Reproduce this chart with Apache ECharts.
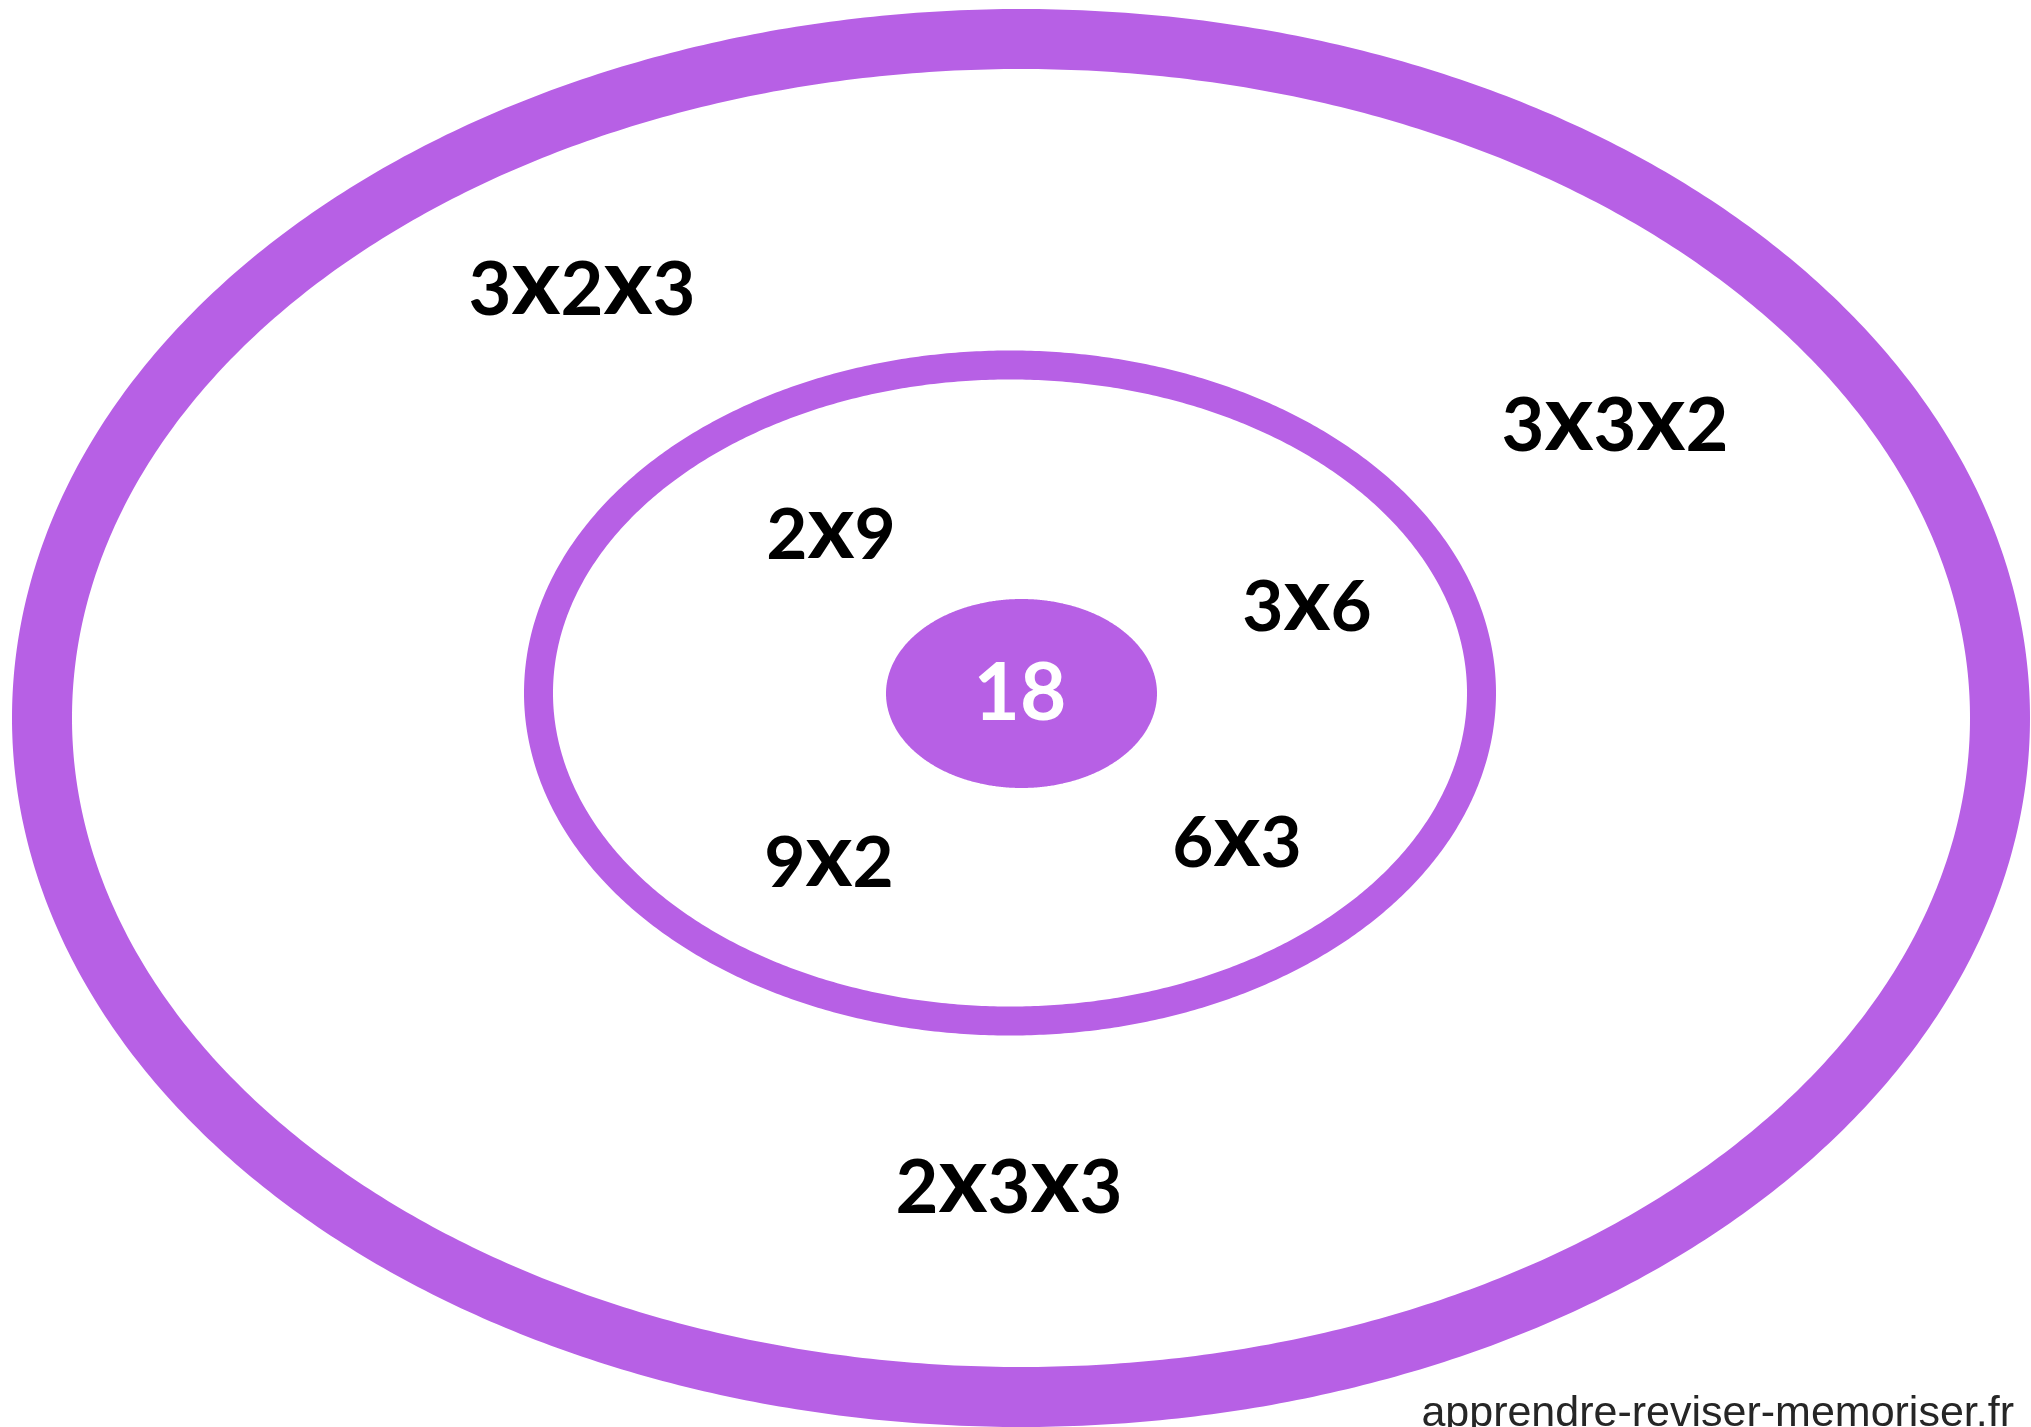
<!DOCTYPE html>
<html>
<head>
<meta charset="utf-8">
<title>18</title>
<script src="https://cdn.jsdelivr.net/npm/echarts@6/dist/echarts.min.js"></script>
<style>
  html, body { margin: 0; padding: 0; background: #ffffff; }
  #chart { width: 2031px; height: 1427px; }
</style>
</head>
<body>
<div id="chart"></div>
<script>
// the number in the middle and the ways to write it
const centreNumber = "18";
const twoFactors = ["2x9", "3x6", "6x3", "9x2"];
const threeFactors = ["3x2x3", "3x3x2", "2x3x3"];
const sourceText = "apprendre-reviser-memoriser.fr";

// layout, in the page units of the hidden axes (x right, y down)
const ringLayout = [
    [1021, 718, 979, 679],       // outer ring
    [1010, 693, 471.5, 328],     // inner ring
    [1021.5, 693.5, 135.5, 94.5] // filled centre
];
const ringLineWidth = [60, 29, 0];
const centrePos = [1020, 694];
const twoPos = [[831, 536], [1307, 608], [1237, 844], [829, 864]];
const threePos = [[582, 291], [1615, 427], [1009, 1189]];

const PURPLE = "#b760e5";

const chart = echarts.init(document.getElementById("chart"), null, { renderer: "canvas" });

const toRich = (s) => s.split("x").map((d) => "{d|" + d + "}").join("{x|x}");

// the "x" is drawn larger; its bottom padding lifts it back onto the digits' baseline
const richFor = (size, color) => ({
    d: { fontFamily: "Lato", fontWeight: "bold", fontSize: size, color: color, lineHeight: size * 1.3 },
    x: {
        fontFamily: "Lato", fontWeight: "bold", fontSize: size * 1.27, color: color,
        lineHeight: size * 1.3, padding: [0, 0, size * 0.2, 0]
    }
});

const labelSeries = (names, pos, size, color) => ({
    type: "scatter",
    symbolSize: 0,
    silent: true,
    itemStyle: { color: "rgba(0,0,0,0)", opacity: 1 },
    data: names.map((n, i) => [pos[i][0], pos[i][1], n]),
    label: {
        show: true,
        position: "inside",
        align: "center",
        verticalAlign: "middle",
        formatter: (p) => toRich(p.data[2]),
        rich: richFor(size, color)
    },
    z: 5
});

chart.setOption({
    animation: false,
    backgroundColor: "#ffffff",
    grid: { left: 0, right: 0, top: 0, bottom: 0 },
    xAxis: { type: "value", min: 0, max: 2031, show: false },
    yAxis: { type: "value", min: 0, max: 1427, inverse: true, show: false },
    series: [
        {
            type: "custom",
            silent: true,
            clip: false,
            data: ringLayout,
            renderItem: (params, api) => {
                const cx = api.value(0), cy = api.value(1);
                const rx = api.value(2), ry = api.value(3);
                const pts = [];
                for (let i = 0; i < 720; i++) {
                    const a = (i / 720) * Math.PI * 2;
                    pts.push(api.coord([cx + rx * Math.cos(a), cy + ry * Math.sin(a)]));
                }
                const lw = ringLineWidth[params.dataIndex];
                return {
                    type: "polygon",
                    shape: { points: pts },
                    style: lw > 0
                        ? { fill: null, stroke: PURPLE, lineWidth: lw, lineJoin: "round" }
                        : { fill: PURPLE, stroke: null }
                };
            },
            z: 1
        },
        labelSeries(threeFactors, threePos, 74, "#000000"),
        labelSeries(twoFactors, twoPos, 71, "#000000"),
        labelSeries([centreNumber], [centrePos], 80, "#ffffff")
    ],
    graphic: [
        {
            type: "text",
            right: 17,
            bottom: -9,
            style: {
                text: sourceText,
                font: "43px 'Liberation Sans'",
                fill: "#262626"
            },
            z: 10
        }
    ]
});
</script>
</body>
</html>
